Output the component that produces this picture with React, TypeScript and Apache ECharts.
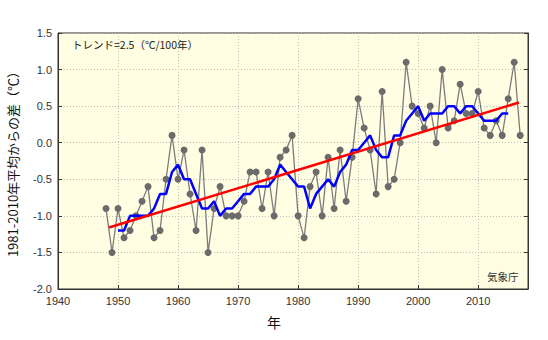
import React, { useEffect, useRef } from "react";
import * as echarts from "echarts";

const years: number[] = [];
for (let y = 1948; y <= 2017; y++) years.push(y);

const anomalies = [
  -0.9, -1.5, -0.9, -1.3, -1.2, -1.0, -0.8, -0.6, -1.3, -1.2, // 1948-1957
  -0.5, 0.1, -0.5, -0.1, -0.7, -1.2, -0.1, -1.5, -0.9, -0.6, // 1958-1967
  -1.0, -1.0, -1.0, -0.8, -0.4, -0.4, -0.9, -0.4, -1.0, -0.2, // 1968-1977
  -0.1, 0.1, -1.0, -1.3, -0.6, -0.4, -1.0, -0.2, -0.9, -0.1, // 1978-1987
  -0.8, -0.2, 0.6, 0.2, -0.1, -0.7, 0.7, -0.6, -0.5, 0.0, // 1988-1997
  1.1, 0.5, 0.4, 0.2, 0.5, 0.0, 1.0, 0.2, 0.3, 0.8, // 1998-2007
  0.4, 0.4, 0.7, 0.2, 0.1, 0.3, 0.1, 0.6, 1.1, 0.1, // 2008-2017
];

const maYears: number[] = [];
for (let y = 1950; y <= 2015; y++) maYears.push(y);
const movingAvg = [
  -1.2, -1.2, -1.0, -1.0, -1.0, -1.0, -0.9, -0.7, -0.7, -0.4, // 1950-1959
  -0.3, -0.5, -0.5, -0.7, -0.9, -0.9, -0.8, -1.0, -0.9, -0.9, // 1960-1969
  -0.8, -0.7, -0.7, -0.6, -0.6, -0.6, -0.5, -0.3, -0.4, -0.5, // 1970-1979
  -0.6, -0.6, -0.9, -0.7, -0.6, -0.5, -0.6, -0.4, -0.3, -0.1, // 1980-1989
  -0.1, 0.0, 0.1, -0.1, -0.2, -0.2, 0.1, 0.1, 0.3, 0.4, // 1990-1999
  0.5, 0.3, 0.4, 0.4, 0.4, 0.5, 0.5, 0.4, 0.5, 0.5, // 2000-2009
  0.4, 0.3, 0.3, 0.3, 0.4, 0.4, // 2010-2015
];

const trendYears = [1948.5, 2016.8];
const trendValues = [-1.16, 0.55];

const xTicks = [1940, 1950, 1960, 1970, 1980, 1990, 2000, 2010];
const yTicks = [-2.0, -1.5, -1.0, -0.5, 0.0, 0.5, 1.0, 1.5];

const trendLabel = "トレンド=2.5（℃/100年）";
const sourceLabel = "気象庁";
const yTitle = "1981-2010年平均からの差（℃）";
const xTitle = "年";

export default function App() {
  const ref = useRef<HTMLDivElement>(null);
  useEffect(() => {
    if (!ref.current) return;
    const chart = echarts.init(ref.current, null, { renderer: "svg" });
    chart.setOption({
      animation: false,
      grid: {
        left: 58,
        top: 33,
        width: 470,
        height: 256,
        show: true,
        backgroundColor: "#fffde2",
        borderColor: "#333",
        borderWidth: 1,
      },
      xAxis: [
        {
          type: "value",
          min: xTicks[0],
          max: 2018.3,
          interval: 10,
          axisLine: { show: true, onZero: false, lineStyle: { color: "#333" } },
          axisTick: { show: true, inside: true, length: 4, lineStyle: { color: "#333" } },
          axisLabel: {
            color: "#333",
            fontSize: 11,
            fontFamily: "Liberation Sans",
            margin: 6,
            showMaxLabel: false,
            formatter: (v: number) => (xTicks.includes(v) ? String(v) : ""),
          },
          splitLine: { show: true, lineStyle: { color: "#bbb", type: [1, 2], width: 1 } },
        },
      ],
      yAxis: [
        {
          type: "value",
          min: yTicks[0],
          max: yTicks[yTicks.length - 1],
          interval: 0.5,
          axisLine: { show: true, onZero: false, lineStyle: { color: "#333" } },
          axisTick: { show: true, inside: true, length: 4, lineStyle: { color: "#333" } },
          axisLabel: {
            color: "#333",
            fontSize: 11,
            fontFamily: "Liberation Sans",
            margin: 6,
            formatter: (v: number) => v.toFixed(1),
          },
          splitLine: { show: true, lineStyle: { color: "#bbb", type: [1, 2], width: 1 } },
        },
        {
          type: "value",
          position: "right",
          min: yTicks[0],
          max: yTicks[yTicks.length - 1],
          interval: 0.5,
          axisLine: { show: true, onZero: false, lineStyle: { color: "#333" } },
          axisTick: { show: true, inside: true, length: 4, lineStyle: { color: "#333" } },
          axisLabel: { show: false },
          splitLine: { show: false },
        },
      ],
      series: [
        {
          type: "line",
          data: years.map((y, i) => [y, anomalies[i]]),
          symbol: "circle",
          symbolSize: 7,
          showSymbol: true,
          lineStyle: { color: "#7c7c7c", width: 1.3 },
          itemStyle: { color: "#6b6b6b" },
          z: 2,
        },
        {
          type: "line",
          data: maYears.map((y, i) => [y, movingAvg[i]]),
          symbol: "none",
          lineStyle: { color: "#0000ff", width: 2.5 },
          z: 3,
        },
        {
          type: "line",
          data: trendYears.map((y, i) => [y, trendValues[i]]),
          symbol: "none",
          lineStyle: { color: "#ff0000", width: 2.5 },
          z: 4,
        },
      ],
      graphic: [
        {
          type: "text",
          left: 72,
          top: 39,
          style: {
            text: trendLabel,
            fontSize: 10.5,
            fontFamily: "Noto Sans CJK JP",
            fill: "#222",
          },
          z: 10,
        },
        {
          type: "text",
          left: 487,
          top: 271,
          style: {
            text: sourceLabel,
            fontSize: 10.5,
            fontFamily: "Noto Sans CJK JP",
            fill: "#333",
          },
          z: 10,
        },
        {
          type: "text",
          x: 12,
          y: 161,
          rotation: Math.PI / 2,
          style: {
            text: yTitle,
            fontSize: 13,
            fontFamily: "Noto Sans CJK JP",
            fill: "#111",
            align: "center",
            verticalAlign: "middle",
          },
        },
        {
          type: "text",
          x: 274,
          y: 322,
          style: {
            text: xTitle,
            fontSize: 14,
            fontFamily: "Noto Sans CJK JP",
            fill: "#111",
            align: "center",
            verticalAlign: "middle",
          },
        },
      ],
    });
    return () => chart.dispose();
  }, []);
  return (
    <div
      ref={ref}
      style={{ position: "fixed", left: 0, top: 0, width: 548, height: 340, background: "#fff" }}
    />
  );
}
